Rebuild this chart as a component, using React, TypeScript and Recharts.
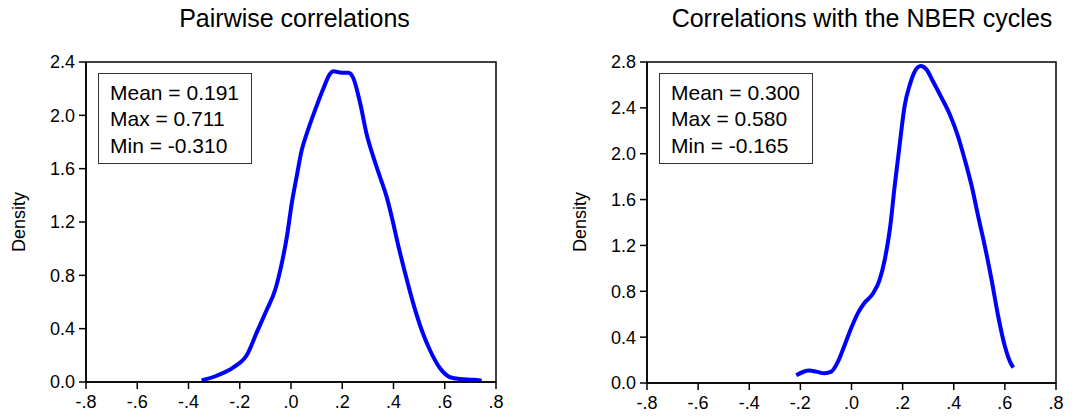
import { LineChart, Line, XAxis, YAxis, ReferenceArea } from "recharts";

// kernel density of pairwise correlations
const pairX = [
  -0.349, -0.29, -0.225, -0.173, -0.134, -0.095, -0.062, -0.036, -0.016, 0.003,
  0.022, 0.042, 0.061, 0.094, 0.126, 0.152, 0.165, 0.198, 0.224, 0.243, 0.27,
  0.295, 0.321, 0.347, 0.373, 0.393, 0.419, 0.445, 0.477, 0.51, 0.542, 0.581,
  0.62, 0.66, 0.712, 0.744,
];
const pairDensity = [
  0.012, 0.047, 0.11, 0.2, 0.37, 0.54, 0.69, 0.89, 1.09, 1.34, 1.54, 1.74, 1.86,
  2.04, 2.2, 2.31, 2.33, 2.32, 2.32, 2.28, 2.09, 1.86, 1.69, 1.54, 1.39, 1.24,
  1.02, 0.82, 0.59, 0.39, 0.24, 0.105, 0.037, 0.022, 0.017, 0.01,
];

// kernel density of correlations with the NBER cycles
const nberX = [
  -0.216, -0.19, -0.164, -0.138, -0.105, -0.079, -0.053, -0.027, -0.001, 0.025,
  0.051, 0.084, 0.11, 0.13, 0.15, 0.169, 0.189, 0.208, 0.228, 0.248, 0.271,
  0.293, 0.319, 0.352, 0.385, 0.417, 0.443, 0.47, 0.496, 0.522, 0.548, 0.574,
  0.6, 0.62, 0.633,
];
const nberDensity = [
  0.067, 0.096, 0.108, 0.099, 0.085, 0.099, 0.186, 0.33, 0.48, 0.61, 0.7, 0.78,
  0.9, 1.075, 1.34, 1.72, 2.09, 2.42, 2.6, 2.72, 2.765, 2.736, 2.63, 2.49, 2.34,
  2.15, 1.95, 1.72, 1.45, 1.19, 0.9, 0.58, 0.32, 0.186, 0.134,
];

const xTicks = [-0.8, -0.6, -0.4, -0.2, 0, 0.2, 0.4, 0.6, 0.8];
const xTickLabels = ["-.8", "-.6", "-.4", "-.2", ".0", ".2", ".4", ".6", ".8"];
const pairYTicks = [0, 0.4, 0.8, 1.2, 1.6, 2.0, 2.4];
const nberYTicks = [0, 0.4, 0.8, 1.2, 1.6, 2.0, 2.4, 2.8];

const pairStats = ["Mean = 0.191", "Max = 0.711", "Min = -0.310"];
const nberStats = ["Mean = 0.300", "Max = 0.580", "Min = -0.165"];

const FONT = '"Liberation Sans", Arial, sans-serif';

const zip = (xs: number[], ds: number[]) => xs.map((x, i) => ({ x, d: ds[i] }));

function DensityPanel({
  data,
  yTicks,
  width,
  margin,
}: {
  data: { x: number; d: number }[];
  yTicks: number[];
  width: number;
  margin: { top: number; right: number; bottom: number; left: number };
}) {
  const yMax = yTicks[yTicks.length - 1];
  const tick = { fill: "#000", fontSize: 18, fontFamily: FONT };
  return (
    <LineChart width={width} height={418} data={data} margin={margin}>
      <XAxis
        dataKey="x"
        type="number"
        domain={[-0.8, 0.8]}
        ticks={xTicks}
        tickFormatter={(v: number) => xTickLabels[xTicks.findIndex((t) => Math.abs(t - v) < 1e-9)]}
        tick={tick}
        tickSize={7}
        tickMargin={6}
        height={30}
        stroke="#000"
        strokeWidth={1.5}
        allowDataOverflow
      />
      <YAxis
        type="number"
        domain={[0, yMax]}
        ticks={yTicks}
        tickFormatter={(v: number) => v.toFixed(1)}
        tick={tick}
        tickSize={7}
        tickMargin={4}
        width={60}
        stroke="#000"
        strokeWidth={1.5}
        allowDataOverflow
      />
      <ReferenceArea
        x1={-0.8}
        x2={0.8}
        y1={0}
        y2={yMax}
        fill="none"
        stroke="#000"
        strokeWidth={1.5}
      />
      <Line
        type="monotone"
        dataKey="d"
        stroke="#0000ff"
        strokeWidth={4}
        dot={false}
        isAnimationActive={false}
      />
    </LineChart>
  );
}

function StatBox({ left, lines }: { left: number; lines: string[] }) {
  return (
    <div
      style={{
        position: "absolute",
        left,
        top: 73,
        width: 154,
        height: 91,
        boxSizing: "border-box",
        border: "1px solid #333",
        paddingLeft: 11,
        paddingTop: 6,
        fontFamily: FONT,
        fontSize: 21,
        lineHeight: "26.3px",
        color: "#000",
        background: "#fff",
      }}
    >
      {lines.map((l) => (
        <div key={l}>{l}</div>
      ))}
    </div>
  );
}

function Title({ center, text }: { center: number; text: string }) {
  return (
    <div
      style={{
        position: "absolute",
        left: center - 300,
        width: 600,
        top: 6,
        textAlign: "center",
        fontFamily: FONT,
        fontSize: 25,
        lineHeight: "25px",
        color: "#000",
      }}
    >
      {text}
    </div>
  );
}

function DensityLabel({ cx }: { cx: number }) {
  return (
    <div
      style={{
        position: "absolute",
        left: cx,
        top: 222,
        transform: "translate(-50%, -50%) rotate(-90deg)",
        fontFamily: FONT,
        fontSize: 18,
        lineHeight: "18px",
        color: "#000",
        whiteSpace: "nowrap",
      }}
    >
      Density
    </div>
  );
}

export default function App() {
  return (
    <div style={{ position: "relative", width: 1091, height: 418, background: "#fff" }}>
      <style>
        {"body{margin:0} .recharts-cartesian-axis-tick-value{font-size:18px;font-family:" +
          FONT.replace(/"/g, "'") +
          "}"}
      </style>
      <div style={{ position: "absolute", left: 0, top: 0 }}>
        <DensityPanel
          data={zip(pairX, pairDensity)}
          yTicks={pairYTicks}
          width={545}
          margin={{ top: 62, right: 49, bottom: 6, left: 26 }}
        />
      </div>
      <div style={{ position: "absolute", left: 545, top: 0 }}>
        <DensityPanel
          data={zip(nberX, nberDensity)}
          yTicks={nberYTicks}
          width={546}
          margin={{ top: 62, right: 35, bottom: 5, left: 42 }}
        />
      </div>
      <Title center={294.5} text="Pairwise correlations" />
      <Title center={862} text="Correlations with the NBER cycles" />
      <DensityLabel cx={18.5} />
      <DensityLabel cx={579.5} />
      <StatBox left={98} lines={pairStats} />
      <StatBox left={659} lines={nberStats} />
    </div>
  );
}
